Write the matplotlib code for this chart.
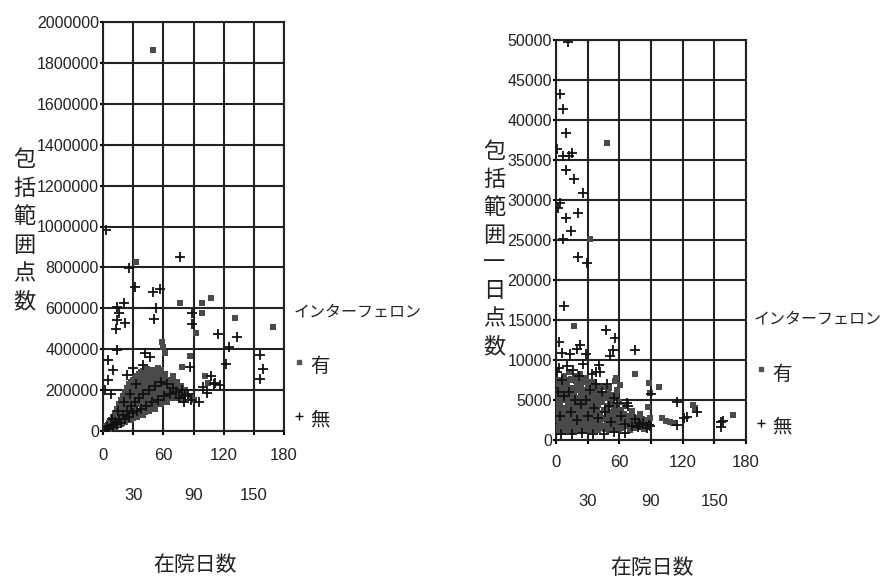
import matplotlib
matplotlib.use('Agg')
import matplotlib.pyplot as plt
from matplotlib import font_manager
from matplotlib.lines import Line2D

# 左図: 在院日数 vs 包括範囲点数
left_yu_x = [50, 33, 77, 98, 107, 98, 131, 169, 92, 59, 60, 62, 87, 79, 101, 104, 88, 90,
             1, 2, 3, 3, 4, 5, 5, 6, 7, 8, 8, 9, 10, 10, 11, 12, 12, 13, 14, 14, 15, 16, 16,
             17, 18, 18, 19, 20, 20, 21, 22, 22, 23, 24, 24, 25, 26, 26, 27, 28, 28, 29, 30,
             30, 31, 32, 32, 33, 34, 34, 35, 36, 36, 37, 38, 38, 39, 40, 40, 41, 42, 42, 43,
             44, 44, 45, 46, 47, 48, 49, 50, 51, 52, 53, 54, 55, 56, 57, 58, 60, 62, 64, 66,
             68, 70, 72, 74, 76, 78, 80, 82, 17, 23, 29, 35, 41, 47, 53, 59, 65, 19, 27, 33,
             39, 45, 51, 57, 63, 25]
left_yu_y = [1863000, 826000, 626000, 626000, 650000, 577000, 553000, 509000, 479000, 435000,
             410000, 381000, 367000, 313000, 269000, 235000, 166000, 150000,
             8000, 15000, 6000, 25000, 12000, 30000, 9000, 40000, 20000, 55000, 15000, 35000,
             70000, 22000, 50000, 90000, 30000, 60000, 110000, 28000, 75000, 130000, 40000,
             90000, 150000, 35000, 100000, 170000, 50000, 120000, 190000, 45000, 140000,
             210000, 60000, 160000, 230000, 55000, 180000, 240000, 70000, 125000, 250000,
             65000, 200000, 260000, 80000, 150000, 270000, 75000, 210000, 280000, 90000,
             170000, 290000, 85000, 230000, 295000, 100000, 190000, 300000, 95000, 240000,
             305000, 110000, 200000, 280000, 120000, 250000, 300000, 130000, 220000, 290000,
             140000, 260000, 310000, 150000, 240000, 300000, 160000, 280000, 170000, 250000,
             190000, 270000, 200000, 240000, 170000, 220000, 150000, 200000, 60000, 95000,
             160000, 130000, 250000, 200000, 210000, 230000, 200000, 70000, 120000, 200000,
             150000, 260000, 180000, 180000, 220000, 100000]
# 密集部の追加分 (日数, 点数)
left_yu_dense = [(2, 10000), (3, 18000), (4, 22000), (5, 20000), (6, 28000), (7, 30000),
                 (8, 38000), (9, 25000), (10, 45000), (11, 30000), (12, 60000), (13, 40000),
                 (14, 80000), (15, 50000), (16, 95000), (17, 70000), (18, 110000),
                 (19, 60000), (20, 130000), (21, 85000), (22, 150000), (23, 75000),
                 (24, 170000), (25, 110000), (26, 190000), (27, 100000), (28, 200000),
                 (29, 140000), (30, 180000), (31, 110000), (32, 225000), (33, 130000),
                 (34, 240000), (35, 170000), (36, 200000), (37, 150000), (38, 255000),
                 (39, 190000), (40, 240000), (41, 140000), (42, 270000), (43, 180000),
                 (44, 220000), (45, 160000), (46, 250000), (47, 180000), (48, 210000),
                 (49, 150000), (50, 260000), (52, 190000), (54, 230000), (56, 200000),
                 (58, 170000), (60, 240000), (62, 200000), (64, 230000), (66, 180000),
                 (68, 220000), (70, 210000), (72, 160000), (74, 190000), (76, 200000),
                 (78, 180000), (4, 8000), (6, 15000), (9, 14000), (12, 20000), (15, 30000),
                 (18, 60000), (21, 45000), (24, 90000), (27, 60000), (30, 120000),
                 (33, 90000), (36, 130000), (39, 110000), (42, 160000), (45, 120000),
                 (48, 170000), (51, 120000), (54, 180000), (57, 130000), (60, 200000),
                 (63, 150000), (66, 210000), (69, 160000), (72, 230000),
                 (3, 12000), (5, 15000), (7, 12000), (10, 30000), (13, 25000), (16, 30000),
                 (19, 40000), (22, 50000), (25, 60000), (28, 55000), (31, 80000),
                 (34, 70000), (37, 100000), (40, 80000), (43, 120000), (46, 100000),
                 (49, 130000), (52, 110000), (55, 150000), (58, 130000), (61, 170000),
                 (64, 140000), (67, 180000), (70, 170000), (73, 190000), (76, 160000),
                 (80, 170000), (20, 100000), (26, 130000), (32, 170000), (38, 210000),
                 (44, 250000), (50, 220000), (56, 270000), (62, 260000), (68, 250000)]
left_mu_x = [3, 77, 26, 32, 57, 50, 51, 53, 14, 21, 14, 22, 13, 16, 14, 89, 89, 114, 125,
             133, 122, 156, 159, 156, 87, 107, 111, 116, 103, 81, 88, 99, 42, 47, 40, 5, 10,
             5, 2, 8, 30, 24, 95, 110,
             2, 4, 6, 8, 10, 12, 14, 16, 18, 20, 22, 24, 26, 28, 30, 32, 34, 36, 38, 40, 43,
             46, 49, 52, 55, 58, 61, 64, 67, 70, 73, 76, 79, 82, 85, 9, 15, 21, 27, 33]
left_mu_y = [983000, 851000, 797000, 704000, 694000, 680000, 548000, 600000, 607000, 625000,
             543000, 528000, 499000, 577000, 396000, 577000, 523000, 474000, 411000, 460000,
             328000, 372000, 303000, 254000, 313000, 269000, 235000, 225000, 186000, 142000,
             152000, 215000, 381000, 362000, 323000, 347000, 298000, 249000, 200000, 180000,
             308000, 274000, 140000, 230000,
             4000, 18000, 12000, 30000, 20000, 45000, 35000, 60000, 40000, 80000, 60000,
             100000, 70000, 120000, 90000, 140000, 100000, 160000, 110000, 180000, 120000,
             200000, 140000, 220000, 150000, 240000, 170000, 230000, 180000, 210000, 190000,
             160000, 200000, 170000, 180000, 60000, 100000, 140000, 180000, 230000]

# 右図: 在院日数 vs 包括範囲一日点数
right_yu_x = [48, 32, 17, 75, 57, 61, 98, 88, 89, 87, 89, 100, 104, 108, 111, 130, 132, 168,
              1, 1, 2, 2, 3, 3, 4, 4, 5, 5, 6, 6, 7, 7, 8, 8, 9, 9, 10, 10, 11, 11, 12, 12,
              13, 13, 14, 14, 15, 15, 16, 16, 17, 17, 18, 18, 19, 19, 20, 20, 21, 21, 22, 22,
              23, 23, 24, 24, 25, 25, 26, 26, 27, 27, 28, 28, 29, 29, 30, 30, 31, 31, 32, 32,
              33, 33, 34, 34, 35, 35, 36, 36, 37, 37, 38, 38, 39, 39, 40, 40, 42, 42, 44, 44,
              46, 46, 48, 48, 50, 50, 52, 52, 54, 54, 56, 56, 58, 58, 60, 60, 62, 63, 65, 66,
              68, 70, 72, 74, 76, 78, 80, 83, 85]
right_yu_y = [37100, 25100, 14250, 8250, 7750, 6900, 6600, 7100, 5900, 4100, 2750, 2750, 2400,
              2300, 2100, 4400, 4000, 3100,
              5000, 2500, 7000, 3800, 1500, 6000, 4500, 2000, 7500, 3000, 5500, 1200, 4000,
              6500, 2500, 8000, 5000, 1800, 3500, 7000, 6000, 2200, 4500, 8500, 3000, 1500,
              6500, 5000, 2800, 7500, 4200, 1300, 6000, 3500, 8000, 2500, 5200, 1600, 7000,
              3800, 4600, 2000, 6800, 3000, 8200, 1400, 5500, 4000, 2600, 7200, 6000, 1800,
              4800, 3200, 7800, 2200, 5400, 1200, 6500, 3600, 4400, 2000, 7200, 2800, 5200,
              1500, 6200, 3800, 4600, 2400, 7000, 1800, 5000, 3200, 6000, 1300, 4200, 2600,
              5600, 1900, 6800, 3400, 4800, 1500, 5800, 2800, 4200, 2000, 6500, 3500, 5000,
              1600, 4400, 2600, 7400, 1900, 6200, 3000, 4800, 1400, 3800, 2200, 4200, 1700,
              3000, 2400, 3600, 1500, 2600, 1900, 3200, 1400, 2500]
right_yu_dense = [(1, 3500), (2, 5500), (2, 1600), (3, 4200), (4, 6500), (4, 1000), (5, 2200),
                  (5, 5200), (6, 3300), (6, 7000), (7, 1600), (7, 5800), (8, 3800), (8, 1000),
                  (9, 6800), (9, 3000), (10, 1500), (10, 5200), (11, 4200), (11, 7500),
                  (12, 2000), (12, 6300), (13, 4600), (13, 2400), (14, 7600), (14, 1700),
                  (15, 5300), (15, 3900), (16, 6100), (16, 2400), (17, 1100), (17, 4700),
                  (18, 3400), (18, 6300), (19, 7400), (19, 2900), (20, 5300), (20, 1200),
                  (21, 6600), (21, 3500), (22, 1800), (22, 5100), (23, 4000), (23, 6300),
                  (24, 2100), (24, 7000), (25, 4600), (25, 1300), (26, 3500), (26, 7600),
                  (27, 5900), (27, 2000), (28, 4100), (28, 6300), (29, 3000), (29, 7200),
                  (30, 1600), (30, 5000), (31, 6100), (31, 3200), (32, 4300), (32, 1200),
                  (33, 6600), (33, 3600), (34, 2000), (34, 5300), (35, 7200), (35, 3000),
                  (36, 4200), (36, 6000), (37, 2200), (37, 6800), (38, 4600), (38, 3100),
                  (39, 6400), (39, 1600), (40, 4400), (40, 3000), (41, 6000), (41, 2100),
                  (43, 5000), (43, 2600), (45, 6600), (45, 3800), (47, 5200), (47, 1700),
                  (49, 3200), (49, 6000), (51, 4600), (51, 2300), (53, 5600), (53, 3200),
                  (55, 2100), (55, 4000), (57, 5600), (57, 2600), (59, 3600), (61, 2600),
                  (64, 3300), (67, 2400), (69, 1800), (71, 2900), (73, 2100), (77, 2400),
                  (79, 1600), (81, 2600), (84, 1800),
                  (1, 1200), (2, 2600), (3, 2900), (3, 7500), (4, 3600), (5, 1300), (6, 2500),
                  (7, 3000), (8, 5200), (9, 2200), (10, 2800), (11, 1200), (12, 3300),
                  (13, 5600), (14, 2800), (15, 1200), (16, 3300), (17, 2600), (18, 1500),
                  (19, 4200), (20, 2400), (21, 1500), (22, 3600), (23, 2400), (24, 3200),
                  (25, 3500), (26, 2600), (27, 1200), (28, 3200), (29, 1800), (30, 2600),
                  (31, 1200), (32, 3400), (33, 2600), (34, 1300), (35, 4000), (36, 2600),
                  (37, 1300), (38, 2200), (39, 3600), (40, 1200), (42, 2300), (44, 2600),
                  (46, 1400), (48, 3000), (50, 1300), (52, 2600), (54, 1500), (56, 3000),
                  (58, 1300), (60, 2400), (62, 1500), (66, 2900), (70, 1300), (74, 2700),
                  (80, 2000)]
right_mu_x = [11, 4, 7, 9, 1, 7, 12, 15, 9, 17, 26, 4, 2, 21, 9, 14, 7, 21, 29, 8, 3, 6, 13,
              20, 23, 28, 47, 56, 54, 51, 75, 41, 38, 90, 115, 124, 134, 121, 156, 158, 156,
              79, 89, 67, 88, 80, 115,
              1, 2, 3, 4, 6, 8, 10, 12, 14, 16, 18, 20, 22, 24, 26, 28, 30, 32, 34, 36, 38,
              40, 42, 44, 46, 48, 50, 52, 55, 58, 62, 65, 68, 72, 75, 78, 82, 86, 5, 15, 25,
              35, 45, 55, 65]
right_mu_y = [49750, 43250, 41400, 38400, 36400, 35500, 35500, 35900, 33750, 32600, 30900,
              29600, 29000, 28400, 27700, 26100, 25100, 22900, 22100, 16750, 12250, 10900,
              10750, 11400, 11900, 10750, 13750, 12750, 11250, 10500, 11250, 9400, 8500, 5700,
              4750, 2900, 3500, 2750, 2250, 2400, 1600, 2100, 1750, 4600, 1900, 1900, 1900,
              8500, 6000, 9000, 3000, 7500, 5500, 9200, 6000, 3500, 8800, 5000, 2500, 8000,
              4500, 9500, 5000, 3000, 6200, 8200, 4000, 7000, 2800, 8500, 6000, 3500, 7000,
              4200, 2200, 5200, 4600, 3000, 2000, 4200, 1800, 2600, 1600, 2100, 1500, 700,
              800, 900, 700, 800, 1000, 900]

x_major = [0, 60, 120, 180]
x_minor = [30, 90, 150]

names = {f.name for f in font_manager.fontManager.ttflist}
num_font = 'Liberation Sans Narrow' if 'Liberation Sans Narrow' in names else 'Liberation Sans'
jp_font = 'Noto Sans CJK JP'
ink = '#222222'
sq_color = '#4a4a4a'

W, H = 885, 586
fig = plt.figure(figsize=(W / 100, H / 100), dpi=100)
fig.patch.set_facecolor('white')


def fx(px):
    return px / W


def fy(py):
    return 1 - py / H


def setup(ax, ymax, ystep, pad1, pad2):
    ax.set_xlim(0, 180)
    ax.set_ylim(0, ymax)
    ax.set_xticks(x_major)
    ax.set_xticks(x_minor, minor=True)
    ax.set_xticklabels([str(v) for v in x_major])
    ax.set_xticklabels([str(v) for v in x_minor], minor=True)
    ax.set_yticks(range(0, ymax + 1, ystep))
    ax.set_yticklabels([str(v) for v in range(0, ymax + 1, ystep)])
    ax.grid(True, axis='x', which='both', color=ink, lw=1.5, zorder=1)
    ax.grid(True, axis='y', which='major', color=ink, lw=1.5, zorder=1)
    ax.set_axisbelow(True)
    for s in ax.spines.values():
        s.set_color(ink)
        s.set_linewidth(1.5)
    ax.tick_params(axis='x', which='major', length=3, width=1.5, pad=pad1, labelsize=12)
    ax.tick_params(axis='x', which='minor', length=3, width=1.5, pad=pad2, labelsize=12)
    ax.tick_params(axis='y', length=2, width=1.5, pad=1, labelsize=11.5)
    for lab in ax.get_xticklabels(which='both') + ax.get_yticklabels():
        lab.set_fontfamily(num_font)
        lab.set_color(ink)


def draw(ax, yu_x, yu_y, yu_dense, mu_x, mu_y):
    ax.scatter(yu_x, yu_y, marker='s', s=22, c=sq_color, linewidths=0, zorder=3)
    ax.scatter([p[0] for p in yu_dense], [p[1] for p in yu_dense], marker='s', s=22,
               c=sq_color, linewidths=0, zorder=3)
    ax.scatter(mu_x, mu_y, marker='+', s=55, c='#111111', linewidths=1.3, zorder=4)


ax1 = fig.add_axes([fx(103), fy(431), (284 - 103) / W, (431 - 22) / H])
setup(ax1, 2000000, 200000, 9, 38)
draw(ax1, left_yu_x, left_yu_y, left_yu_dense, left_mu_x, left_mu_y)

ax2 = fig.add_axes([fx(556), fy(440), (746 - 556) / W, (440 - 40) / H])
setup(ax2, 50000, 5000, 8, 36)
draw(ax2, right_yu_x, right_yu_y, right_yu_dense, right_mu_x, right_mu_y)

# 縦書きの軸ラベル
fig.text(fx(24), fy(231), '\n'.join('包括範囲点数'), ha='center', va='center',
         fontsize=16, family=jp_font, linespacing=1.3, color=ink)
fig.text(fx(494), fy(249), '\n'.join('包括範囲一日点数'), ha='center', va='center',
         fontsize=16, family=jp_font, linespacing=1.27, color=ink)

fig.text(fx(195), fy(565), '在院日数', ha='center', va='center', fontsize=15,
         family=jp_font, color=ink)
fig.text(fx(652), fy(568), '在院日数', ha='center', va='center', fontsize=15,
         family=jp_font, color=ink)

# 凡例
for tx, ty, mx, sq_y, pl_y in [(358, 312, 299, 362, 416), (818, 319, 761, 369, 423)]:
    fig.text(fx(tx), fy(ty), 'インターフェロン', ha='center', va='center', fontsize=11.5,
             family=jp_font, color=ink)
    fig.add_artist(Line2D([fx(mx)], [fy(sq_y)], marker='s', ms=3, color='#555555',
                          lw=0, transform=fig.transFigure))
    fig.add_artist(Line2D([fx(mx)], [fy(pl_y)], marker='+', ms=6, mew=1, color='#111111',
                          lw=0, transform=fig.transFigure))
    fig.text(fx(mx + 21), fy(sq_y + 5), '有', ha='center', va='center', fontsize=14,
             family=jp_font, color=ink)
    fig.text(fx(mx + 21), fy(pl_y + 4), '無', ha='center', va='center', fontsize=14,
             family=jp_font, color=ink)

fig.savefig('out.png', dpi=100, facecolor='white')
